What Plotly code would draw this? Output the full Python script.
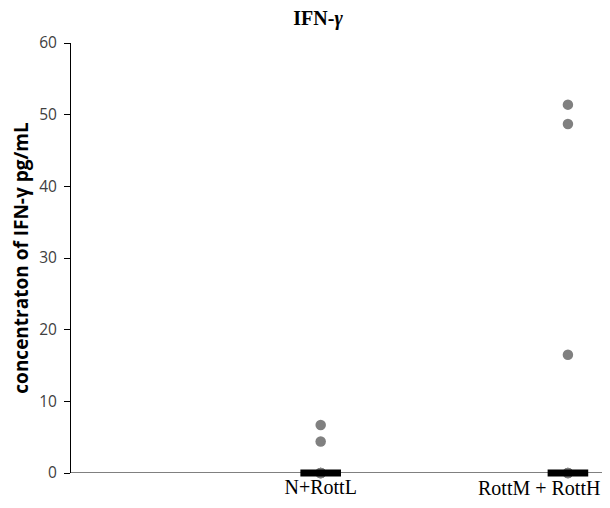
import plotly.graph_objects as go

categories = ["N+RottL", "RottM + RottH"]
cat_pos = [1, 2]
values_L = [6.7, 4.4, 0, 0, 0, 0]
values_H = [51.4, 48.7, 16.5, 0, 0, 0]
medians = [0, 0]
y_ticks = [0, 10, 20, 30, 40, 50, 60]

# page body has an 8px default margin, so the figure is sized/offset accordingly
W, H = 602, 500

fig = go.Figure()
for pos, vals in zip(cat_pos, [values_L, values_H]):
    fig.add_trace(go.Scatter(x=[pos] * len(vals), y=vals, mode="markers",
                             marker=dict(color="#808080", size=10.5),
                             showlegend=False, cliponaxis=False))
fig.add_trace(go.Scatter(x=cat_pos, y=medians, mode="markers",
                         marker=dict(symbol="line-ew", size=29,
                                     line=dict(color="black", width=7)),
                         showlegend=False, cliponaxis=False))

fig.update_layout(
    width=W, height=H,
    margin=dict(l=63, r=5, t=35, b=35),
    paper_bgcolor="white", plot_bgcolor="white",
    title=dict(text="<b>IFN-<i>γ</i></b>", x=(318 - 8) / W, xanchor="center",
               y=1 - 9.5 / H, yanchor="middle", pad=dict(t=0, b=0),
               font=dict(family="Liberation Serif", size=20, color="black")),
    xaxis=dict(range=[-0.01, 2.15], tickvals=[1], ticktext=[categories[0]],
               showgrid=False, zeroline=False, showline=False, ticks="",
               tickfont=dict(family="Liberation Serif", size=20, color="black")),
    yaxis=dict(range=[0, 60], tickvals=y_ticks, showgrid=False, zeroline=False,
               showline=True, linecolor="black", linewidth=1, ticks="outside",
               ticklen=6, tickcolor="black", ticklabelstandoff=4,
               tickfont=dict(family="Open Sans", size=15.5, color="#404040"),
               title=dict(text="<b>concentraton of IFN-γ pg/mL</b>", standoff=9,
                          font=dict(family="Open Sans", size=19, color="black"))),
)
fig.add_annotation(x=cat_pos[1], y=0, xref="x", yref="y", text=categories[1],
                   showarrow=False, xanchor="right", yanchor="top", xshift=34, yshift=-2,
                   font=dict(family="Liberation Serif", size=20, color="black"))
fig.add_shape(type="line", xref="paper", yref="y", x0=0, x1=1, y0=0, y1=0,
              line=dict(color="black", width=1), layer="below")

fig.write_html("out.html")
